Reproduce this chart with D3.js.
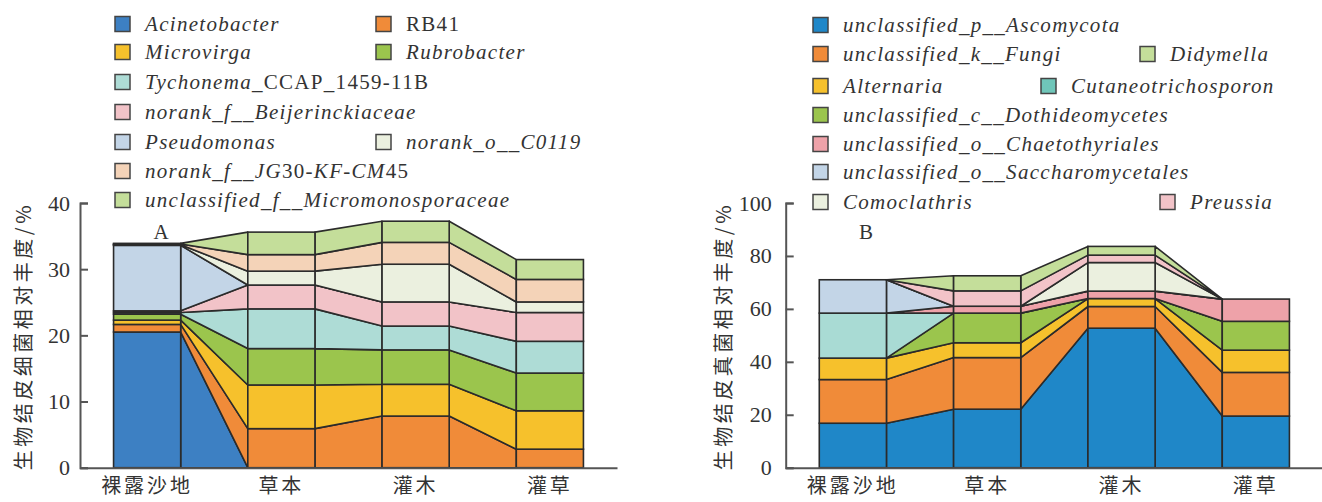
<!DOCTYPE html>
<html><head><meta charset="utf-8">
<script src="https://cdn.jsdelivr.net/npm/d3@7"></script>
<style>
body{margin:0;background:#fff;}
svg text{fill:#333;}
</style></head>
<body><svg id="c" width="1322" height="502"></svg>
<script>
const categories = ["裸露沙地", "草本", "灌木", "灌草"];

// Panel A: bacteria (stack order bottom -> top)
const bacteriaNames = ["Acinetobacter","RB41","Microvirga","Rubrobacter","Tychonema_CCAP_1459-11B",
  "norank_f__Beijerinckiaceae","Pseudomonas","norank_o__C0119","norank_f__JG30-KF-CM45","unclassified_f__Micromonosporaceae"];
const bacteriaColors = ["#3d80c3","#f08b39","#f6c12c","#9bc54d","#aedcd6","#f2c3c8","#c3d5e7","#ebf0df","#f4d3b8","#c4de9a"];
const acinetobacter = [20.5, 0, 0, 0];
const rb41          = [1.15, 5.9, 7.8, 2.8];
const microvirga    = [0.65, 6.6, 4.8, 5.8];
const rubrobacter   = [0.9, 5.5, 5.2, 5.7];
const tychonema     = [0.25, 6.0, 3.6, 4.8];
const beijerinck    = [0.25, 3.6, 3.65, 4.35];
const pseudomonas   = [9.9, 0, 0, 0];
const c0119         = [0.1, 2.1, 5.7, 1.6];
const jg30          = [0.1, 2.5, 3.3, 3.4];
const micromono     = [0.1, 3.4, 3.2, 3.0];
const bacteriaValues = [acinetobacter, rb41, microvirga, rubrobacter, tychonema, beijerinck, pseudomonas, c0119, jg30, micromono];
const ticksA = [0, 10, 20, 30, 40];

// Panel B: fungi (stack order bottom -> top)
const fungiNames = ["unclassified_p__Ascomycota","unclassified_k__Fungi","Alternaria","unclassified_c__Dothideomycetes",
  "Cutaneotrichosporon","unclassified_o__Chaetothyriales","unclassified_o__Saccharomycetales","Comoclathris","Preussia","Didymella"];
const fungiColors = ["#1f87c8","#f08b39","#f6c12c","#9bc54d","#a9dbd4","#eea2a9","#c3d5e7","#ebf0df","#f2c3c8","#c4de9a"];
const ascomycota     = [16.8, 22.1, 52.7, 19.5];
const fungiUncl      = [16.5, 19.5, 8.2, 16.5];
const alternaria     = [8.1, 5.6, 3.0, 8.4];
const dothideo       = [0, 11.2, 0, 10.9];
const cutaneo        = [17.0, 0, 0, 0];
const chaetothyr     = [0, 2.6, 2.8, 8.4];
const saccharo       = [12.6, 0, 0, 0];
const comoclathris   = [0, 0, 10.8, 0];
const preussia       = [0, 5.8, 2.8, 0];
const didymella      = [0, 5.7, 3.3, 0];
const fungiValues = [ascomycota, fungiUncl, alternaria, dothideo, cutaneo, chaetothyr, saccharo, comoclathris, preussia, didymella];
const ticksB = [0, 20, 40, 60, 80, 100];

const svg = d3.select("#c");
const serif = "'Liberation Serif','Times New Roman',serif";
const cjk = "'Noto Sans CJK SC',sans-serif";

function panel(opt) {
  const {names, values, colors, ticks, xRange, yMax, tickPad, title, titleX, letter, letterX} = opt;
  const x = d3.scaleBand().domain(categories).range(xRange).paddingInner(0.5).paddingOuter(0.25);
  const y = d3.scaleLinear().domain([0, yMax]).range([467.7, 203]);
  const rows = categories.map((c, i) => { const o = {cat: c}; names.forEach((n, k) => o[n] = values[k][i]); return o; });
  const stacked = d3.stack().keys(names)(rows);
  const g = svg.append("g");
  stacked.forEach((s, k) => {
    const col = colors[k];
    for (let i = 0; i < categories.length - 1; i++) {
      const xa = x(categories[i]) + x.bandwidth(), xb = x(categories[i + 1]);
      const a = s[i], b = s[i + 1];
      const pts = [[xa, y(a[0])], [xb, y(b[0])], [xb, y(b[1])], [xa, y(a[1])]];
      g.append("path").attr("d", d3.line()(pts) + "Z")
        .attr("fill", col).attr("stroke", "#2b2b2b").attr("stroke-width", 1.6).attr("stroke-linejoin", "round");
    }
    s.forEach((d, i) => {
      g.append("rect").attr("x", x(categories[i])).attr("width", x.bandwidth())
        .attr("y", y(d[1])).attr("height", y(d[0]) - y(d[1]))
        .attr("fill", col).attr("stroke", "#2b2b2b").attr("stroke-width", 1.6);
    });
  });
  const ax = svg.append("g").attr("transform", `translate(${xRange[0]},0)`)
    .call(d3.axisLeft(y).tickValues(ticks).tickSize(-8).tickPadding(tickPad).tickFormat(d3.format("d")));
  ax.select(".domain").attr("stroke", "#555").attr("stroke-width", 2);
  ax.selectAll(".tick line").attr("stroke", "#555").attr("stroke-width", 2);
  ax.selectAll(".tick text").attr("font-family", serif).attr("font-size", 22).attr("fill", "#333");
  const bx = svg.append("g").attr("transform", "translate(0,467.7)")
    .call(d3.axisBottom(x).tickSize(0).tickPadding(11));
  bx.select(".domain").attr("stroke", "#555").attr("stroke-width", 2);
  bx.selectAll(".tick text").attr("font-family", cjk).attr("font-size", 20).attr("letter-spacing", 3).attr("fill", "#333");
  svg.append("text").attr("transform", `translate(${titleX},336) rotate(-90)`).attr("text-anchor", "middle")
    .attr("dominant-baseline", "central")
    .attr("font-family", cjk).attr("font-size", 20).attr("letter-spacing", 3.5).text(title);
  svg.append("text").attr("x", letterX).attr("y", 239).attr("text-anchor", "middle")
    .attr("font-family", serif).attr("font-size", 21).text(letter);
}

panel({names: bacteriaNames, values: bacteriaValues, colors: bacteriaColors, ticks: ticksA, xRange: [80, 617], yMax: 40,
  tickPad: 10, title: "生物结皮细菌相对丰度/%", titleX: 22, letter: "A", letterX: 161});
panel({names: fungiNames, values: fungiValues, colors: fungiColors, ticks: ticksB, xRange: [785.7, 1323], yMax: 100,
  tickPad: 14, title: "生物结皮真菌相对丰度/%", titleX: 722, letter: "B", letterX: 866});

// legend layout: [series index, swatch x, row y, label parts [text, italic]]
const legendA = [
  [0, 115, 24, [["Acinetobacter", 1]]],
  [1, 376, 24, [["RB41", 0]]],
  [2, 115, 52, [["Microvirga", 1]]],
  [3, 376, 52, [["Rubrobacter", 1]]],
  [4, 115, 82, [["Tychonema", 1], ["_CCAP_1459-11B", 0]]],
  [5, 115, 112, [["norank_f__Beijerinckiaceae", 1]]],
  [6, 115, 142, [["Pseudomonas", 1]]],
  [7, 376, 142, [["norank_o__C0119", 1]]],
  [8, 115, 171, [["norank_f__JG", 1], ["30-", 0], ["KF", 1], ["-", 0], ["CM", 1], ["45", 0]]],
  [9, 115, 200, [["unclassified_f__Micromonosporaceae", 1]]]
];
const legendB = [
  [0, 813, 25, [["unclassified_p__Ascomycota", 1]]],
  [1, 813, 54, [["unclassified_k__Fungi", 1]]],
  [9, 1140, 54, [["Didymella", 1]]],
  [2, 813, 86, [["Alternaria", 1]]],
  [4, 1041, 86, [["Cutaneotrichosporon", 1]]],
  [3, 813, 115, [["unclassified_c__Dothideomycetes", 1]]],
  [5, 813, 144, [["unclassified_o__Chaetothyriales", 1]]],
  [6, 813, 172, [["unclassified_o__Saccharomycetales", 1]]],
  [7, 813, 202, [["Comoclathris", 1]]],
  [8, 1160, 202, [["Preussia", 1]]]
];
function legend(items, swatchColors) {
  items.forEach(([k, lx, ly, parts]) => {
    svg.append("rect").attr("x", lx).attr("y", ly - 7.5).attr("width", 15).attr("height", 15)
      .attr("fill", swatchColors[k]).attr("stroke", "#444").attr("stroke-width", 1.5);
    const t = svg.append("text").attr("x", lx + 30).attr("y", ly).attr("dominant-baseline", "central")
      .attr("font-family", serif).attr("font-size", 21).attr("letter-spacing", 1.3);
    parts.forEach(([txt, it]) => t.append("tspan").attr("font-style", it ? "italic" : "normal").text(txt));
  });
}
legend(legendA, bacteriaColors);
const fungiSwatch = fungiColors.slice(); fungiSwatch[4] = "#6fc6b9";
legend(legendB, fungiSwatch);
</script></body></html>
